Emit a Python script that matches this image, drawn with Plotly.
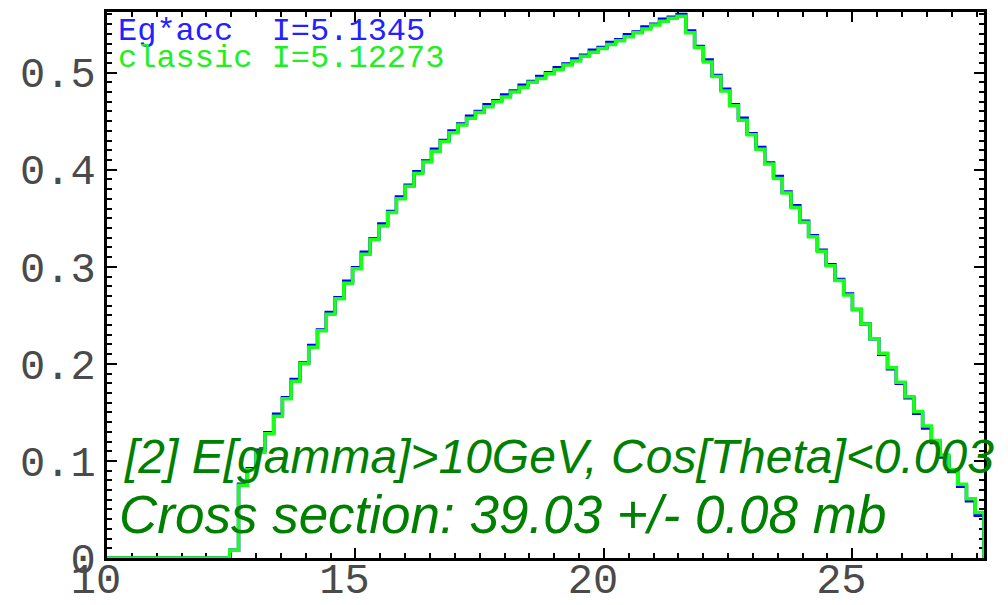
import numpy as np
import plotly.graph_objects as go

# ---- data ----
XMIN, XMAX, NBINS = 10.0, 27.65, 100
YMAX = 0.5625

classic = [
    0, 0, 0, 0, 0, 0, 0, 0, 0, 0,
    0, 0, 0, 0, 0.008, 0.075, 0.091, 0.109, 0.128, 0.146,
    0.164, 0.182, 0.200, 0.217, 0.234, 0.251, 0.267, 0.283, 0.298, 0.313,
    0.328, 0.342, 0.356, 0.370, 0.383, 0.396, 0.408, 0.419, 0.429, 0.438,
    0.446, 0.453, 0.459, 0.465, 0.470, 0.475, 0.480, 0.485, 0.490, 0.494,
    0.499, 0.503, 0.508, 0.512, 0.517, 0.521, 0.525, 0.529, 0.533, 0.537,
    0.541, 0.545, 0.549, 0.553, 0.556, 0.558, 0.541, 0.526, 0.511, 0.496,
    0.481, 0.466, 0.451, 0.436, 0.421, 0.406, 0.391, 0.376, 0.361, 0.346,
    0.331, 0.316, 0.301, 0.286, 0.271, 0.256, 0.241, 0.226, 0.211, 0.196,
    0.181, 0.166, 0.151, 0.136, 0.121, 0.106, 0.091, 0.076, 0.061, 0.047,
]

eg_acc = [
    0, 0, 0, 0, 0, 0, 0, 0, 0, 0,
    0, 0, 0, 0, 0.008, 0.076, 0.092, 0.111, 0.129, 0.148,
    0.165, 0.184, 0.201, 0.219, 0.235, 0.253, 0.268, 0.285, 0.299, 0.315,
    0.329, 0.344, 0.357, 0.372, 0.384, 0.398, 0.409, 0.421, 0.430, 0.440,
    0.447, 0.455, 0.460, 0.467, 0.471, 0.477, 0.481, 0.487, 0.491, 0.496,
    0.500, 0.505, 0.509, 0.514, 0.518, 0.523, 0.526, 0.531, 0.534, 0.539,
    0.542, 0.547, 0.550, 0.555, 0.557, 0.560, 0.543, 0.527, 0.513, 0.497,
    0.483, 0.467, 0.453, 0.437, 0.423, 0.407, 0.393, 0.377, 0.363, 0.347,
    0.332, 0.317, 0.302, 0.287, 0.272, 0.256, 0.241, 0.226, 0.210, 0.195,
    0.180, 0.165, 0.149, 0.134, 0.119, 0.104, 0.089, 0.074, 0.059, 0.044,
]

legend_lines = ["Eg*acc  I=5.1345", "classic I=5.12273"]
title_line1 = "[2] E[gamma]>10GeV, Cos[Theta]<0.003"
title_line2 = "Cross section: 39.03 +/- 0.08 mb"

x_ticks = [10, 15, 20, 25]
y_ticks = [0, 0.1, 0.2, 0.3, 0.4, 0.5]
y_tick_text = ["0", "0.1", "0.2", "0.3", "0.4", "0.5"]

# ---- build step outlines ----
edges = np.linspace(XMIN, XMAX, NBINS + 1)


def outline(vals):
    xs = list(edges[:-1]) + [edges[-1], edges[-1]]
    ys = list(vals) + [vals[-1], 0]
    return xs, ys


BLUE = "#0000ff"
GREEN = "#19ff19"
DKGREEN = "#008000"

fig = go.Figure()
bx, by = outline(eg_acc)
gx, gy = outline(classic)
fig.add_trace(go.Scatter(x=bx, y=by, mode="lines", line=dict(shape="hv", color=BLUE, width=3.5),
                         showlegend=False, hoverinfo="skip"))
fig.add_trace(go.Scatter(x=gx, y=gy, mode="lines", line=dict(shape="hv", color=GREEN, width=3.5),
                         showlegend=False, hoverinfo="skip"))

tickfont = dict(family="Liberation Mono", size=42, color="#4a4a4a")

fig.update_xaxes(
    range=[XMIN, XMAX], showgrid=False, zeroline=False, automargin=False,
    showline=True, linecolor="black", linewidth=3, mirror="allticks",
    ticks="inside", ticklen=10, tickwidth=2, tickcolor="black",
    tickvals=x_ticks, ticktext=[str(v) for v in x_ticks], tickfont=tickfont,
    ticklabelshift=-11, ticklabelstandoff=-18,
    minor=dict(dtick=0.5, tick0=0, ticks="inside", ticklen=5, tickwidth=2, tickcolor="black"),
    layer="below traces",
)
fig.update_yaxes(
    range=[0, YMAX], showgrid=False, zeroline=False, automargin=False,
    showline=True, linecolor="black", linewidth=3, mirror="allticks",
    ticks="inside", ticklen=10, tickwidth=2, tickcolor="black",
    tickvals=y_ticks, ticktext=y_tick_text, tickfont=tickfont,
    minor=dict(dtick=0.01, tick0=0, ticks="inside", ticklen=5, tickwidth=1.5, tickcolor="black"),
    layer="below traces",
)

L, R, T, B = 107, 24, 12, 47
W, H = 1008, 605
pw, ph = W - L - R, H - T - B


def px(xp):
    return (xp - L) / pw


def py(yp):
    return 1 - (yp - T) / ph


legend_font = dict(family="Liberation Mono", size=32)
fig.add_annotation(x=px(116), y=py(32), xref="paper", yref="paper", xanchor="left", yanchor="middle",
                   text=legend_lines[0], showarrow=False, font=dict(color="#2222ff", **legend_font))
fig.add_annotation(x=px(116), y=py(58), xref="paper", yref="paper", xanchor="left", yanchor="middle",
                   text=legend_lines[1], showarrow=False, font=dict(color="#22ee22", **legend_font))

fig.add_annotation(x=px(122), y=py(456), xref="paper", yref="paper", xanchor="left", yanchor="middle",
                   text="<i>" + title_line1 + "</i>", showarrow=False,
                   font=dict(family="Liberation Sans", size=48, color=DKGREEN))
fig.add_annotation(x=px(117), y=py(514), xref="paper", yref="paper", xanchor="left", yanchor="middle",
                   text="<i>" + title_line2 + "</i>", showarrow=False,
                   font=dict(family="Liberation Sans", size=53, color=DKGREEN))

fig.update_layout(
    width=W, height=H,
    margin=dict(l=L, r=R, t=T, b=B, autoexpand=False),
    paper_bgcolor="white", plot_bgcolor="white",
    showlegend=False,
)

fig.write_html("out.html")
